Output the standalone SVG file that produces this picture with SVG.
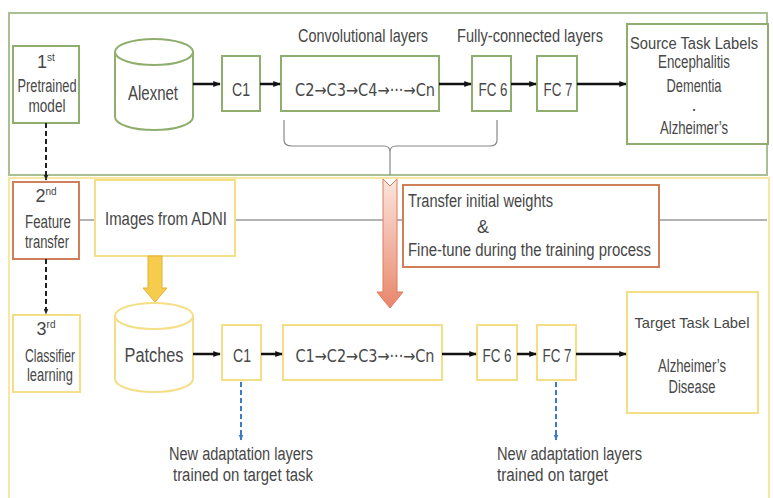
<svg xmlns="http://www.w3.org/2000/svg" width="773" height="498" viewBox="0 0 773 498">
<defs>
<style>
text{font-family:"Liberation Sans",Arial,sans-serif;fill:#474747;font-size:18px;text-anchor:middle}
.g{fill:#fff;stroke:#8fae6e;stroke-width:2}
.y{fill:#fff;stroke:#f5df86;stroke-width:2}
.o{fill:#fff;stroke:#cf8058;stroke-width:2}
.ar{stroke:#111;stroke-width:2.5;fill:none;marker-end:url(#ah)}
.dk{stroke:#222;stroke-width:2;stroke-dasharray:5 3;fill:none;marker-end:url(#ahs)}
.bl{stroke:#3a7cc4;stroke-width:2;stroke-dasharray:5 3;fill:none;marker-end:url(#ahb)}
.sup{font-size:10px}
.l{text-anchor:start}
.big{font-size:20px}
.bx{font-size:19px}
.ch{font-family:"DejaVu Sans",sans-serif;font-size:17px}
.sm{font-size:16px}
.xs{font-size:15px}
</style>
<marker id="ah" viewBox="0 0 10 10" refX="9" refY="5" markerWidth="3" markerHeight="3" orient="auto"><path d="M0,1 L10,5 L0,9 Z" fill="#111"/></marker>
<marker id="ahs" viewBox="0 0 10 10" refX="9" refY="5" markerWidth="3" markerHeight="3" orient="auto"><path d="M0,1 L10,5 L0,9 Z" fill="#222"/></marker>
<marker id="ahb" viewBox="0 0 10 10" refX="9" refY="5" markerWidth="3" markerHeight="3" orient="auto"><path d="M0,1 L10,5 L0,9 Z" fill="#3a7cc4"/></marker>
<linearGradient id="og" x1="0" y1="0" x2="0" y2="1"><stop offset="0" stop-color="#fbe6de"/><stop offset="1" stop-color="#e8866b"/></linearGradient>
</defs>
<rect width="773" height="498" fill="#fff"/>

<g id="panel-pretrain"><rect x="9" y="13" width="758" height="162" fill="#fff" stroke="#a9c093" stroke-width="2"/></g>
<g id="panel-target"><rect x="9" y="178" width="760" height="330" fill="#fff" stroke="#f7e7a0" stroke-width="2"/></g>

<g id="hline"><line x1="79" y1="220" x2="767" y2="220" stroke="#9a9a9a" stroke-width="1.5"/></g>

<g id="brace"><path d="M284,120 V140 Q284,146 292,146 H384 Q390,146 390,152 V175 M390,152 Q390,146 396,146 H490 Q497,146 497,140 V120" fill="none" stroke="#888" stroke-width="1.2"/></g>

<g id="stage1"><rect class="g" x="13" y="46" width="66" height="77"/><text x="46" y="68">1<tspan class="sup" dy="-7">st</tspan></text><text x="47" y="92" textLength="59" lengthAdjust="spacingAndGlyphs">Pretrained</text><text x="47" y="112" textLength="37" lengthAdjust="spacingAndGlyphs">model</text></g>

<g id="alexnet"><path class="g" d="M115,52 A39,13 0 0 1 193,52 V117 A39,13 0 0 1 115,117 Z M115,52 A39,13 0 0 0 193,52"/><text class="big" x="153" y="100" textLength="50" lengthAdjust="spacingAndGlyphs">Alexnet</text></g>

<g id="c1-top"><rect class="g" x="222" y="56" width="38" height="55"/><text class="bx" x="241" y="96" textLength="18" lengthAdjust="spacingAndGlyphs">C1</text></g>
<g id="conv-top"><rect class="g" x="281" y="56" width="158" height="55"/><text class="ch" x="365" y="96" textLength="140" lengthAdjust="spacingAndGlyphs">C2→C3→C4→···→Cn</text></g>
<g id="conv-label"><text x="363" y="42" textLength="130" lengthAdjust="spacingAndGlyphs">Convolutional layers</text></g>
<g id="fc-label"><text x="530" y="42" textLength="146" lengthAdjust="spacingAndGlyphs">Fully-connected layers</text></g>
<g id="fc6-top"><rect class="g" x="472" y="56" width="39" height="55"/><text class="bx" x="493" y="96" textLength="29" lengthAdjust="spacingAndGlyphs">FC 6</text></g>
<g id="fc7-top"><rect class="g" x="537" y="56" width="40" height="55"/><text class="bx" x="558" y="96" textLength="29" lengthAdjust="spacingAndGlyphs">FC 7</text></g>
<g id="source"><rect class="g" x="627" y="24" width="141" height="120"/><text class="sm" x="694" y="49" textLength="128" lengthAdjust="spacingAndGlyphs">Source Task Labels</text><text x="694" y="68" textLength="72" lengthAdjust="spacingAndGlyphs">Encephalitis</text><text x="694" y="92" textLength="55" lengthAdjust="spacingAndGlyphs">Dementia</text><text x="694" y="111">.</text><text x="694" y="134" textLength="68" lengthAdjust="spacingAndGlyphs">Alzheimer’s</text></g>

<g id="stage2"><rect class="o" x="13" y="182" width="66" height="77"/><text x="46" y="202">2<tspan class="sup" dy="-7">nd</tspan></text><text x="48" y="228" textLength="46" lengthAdjust="spacingAndGlyphs">Feature</text><text x="47" y="248" textLength="44" lengthAdjust="spacingAndGlyphs">transfer</text></g>
<g id="adni"><rect class="y" x="95" y="180" width="140" height="76"/><text class="bx" x="166" y="225" textLength="122" lengthAdjust="spacingAndGlyphs">Images from ADNI</text></g>
<g id="transfer"><rect class="o" x="403" y="185" width="256" height="82"/><text class="l" x="408" y="207" textLength="145" lengthAdjust="spacingAndGlyphs">Transfer initial weights</text><text x="483" y="233">&amp;</text><text class="l" x="408" y="256" textLength="243" lengthAdjust="spacingAndGlyphs">Fine-tune during the training process</text></g>

<g id="stage3"><rect class="y" x="13" y="315" width="67" height="77"/><text x="46" y="335">3<tspan class="sup" dy="-7">rd</tspan></text><text x="50" y="362" textLength="50" lengthAdjust="spacingAndGlyphs">Classifier</text><text x="50" y="381" textLength="46" lengthAdjust="spacingAndGlyphs">learning</text></g>

<g id="patches"><path class="y" d="M115,316 A39,13 0 0 1 193,316 V379 A39,13 0 0 1 115,379 Z M115,316 A39,13 0 0 0 193,316"/><text class="big" x="154" y="362" textLength="59" lengthAdjust="spacingAndGlyphs">Patches</text></g>
<g id="c1-bot"><rect class="y" x="222" y="325" width="39" height="55"/><text class="bx" x="242" y="362" textLength="18" lengthAdjust="spacingAndGlyphs">C1</text></g>
<g id="conv-bot"><rect class="y" x="283" y="325" width="159" height="55"/><text class="ch" x="365" y="362" textLength="139" lengthAdjust="spacingAndGlyphs">C1→C2→C3→···→Cn</text></g>
<g id="fc6-bot"><rect class="y" x="477" y="325" width="40" height="55"/><text class="bx" x="497" y="362" textLength="29" lengthAdjust="spacingAndGlyphs">FC 6</text></g>
<g id="fc7-bot"><rect class="y" x="537" y="325" width="39" height="55"/><text class="bx" x="557" y="362" textLength="29" lengthAdjust="spacingAndGlyphs">FC 7</text></g>
<g id="target"><rect class="y" x="627" y="292" width="131" height="121"/><text class="xs" x="692" y="328" textLength="115" lengthAdjust="spacingAndGlyphs">Target Task Label</text><text x="692" y="372" textLength="68" lengthAdjust="spacingAndGlyphs">Alzheimer’s</text><text x="692" y="393" textLength="47" lengthAdjust="spacingAndGlyphs">Disease</text></g>

<g id="note1"><text x="241" y="460" textLength="144" lengthAdjust="spacingAndGlyphs">New adaptation layers</text><text x="243" y="481" textLength="140" lengthAdjust="spacingAndGlyphs">trained on target task</text></g>
<g id="note2"><text class="l" x="497" y="460" textLength="145" lengthAdjust="spacingAndGlyphs">New adaptation layers</text><text class="l" x="497" y="481" textLength="111" lengthAdjust="spacingAndGlyphs">trained on target</text></g>

<g id="connectors">
<line class="ar" x1="193" y1="84" x2="220" y2="84"/>
<line class="ar" x1="260" y1="84" x2="280" y2="84"/>
<line class="ar" x1="439" y1="84" x2="471" y2="84"/>
<line class="ar" x1="511" y1="84" x2="536" y2="84"/>
<line class="ar" x1="577" y1="84" x2="626" y2="84"/>
<line class="ar" x1="193" y1="354" x2="220" y2="354"/>
<line class="ar" x1="261" y1="354" x2="282" y2="354"/>
<line class="ar" x1="442" y1="354" x2="476" y2="354"/>
<line class="ar" x1="517" y1="354" x2="536" y2="354"/>
<line class="ar" x1="576" y1="354" x2="626" y2="354"/>
<line class="dk" x1="46" y1="123" x2="46" y2="180"/>
<line class="dk" x1="46" y1="259" x2="46" y2="314"/>
<line class="bl" x1="241" y1="382" x2="241" y2="440"/>
<line class="bl" x1="556" y1="382" x2="556" y2="440"/>
<path d="M148,256 H162 V288 H167 L155,302 L143,288 H148 Z" fill="#f6cc4c" stroke="#e2b23a" stroke-width="1"/>
<path d="M383,179 L390,186 L397,179 V292 H403 L390,308 L377,292 H383 Z" fill="url(#og)" stroke="#e07a5f" stroke-width="1"/>
</g>
</svg>
